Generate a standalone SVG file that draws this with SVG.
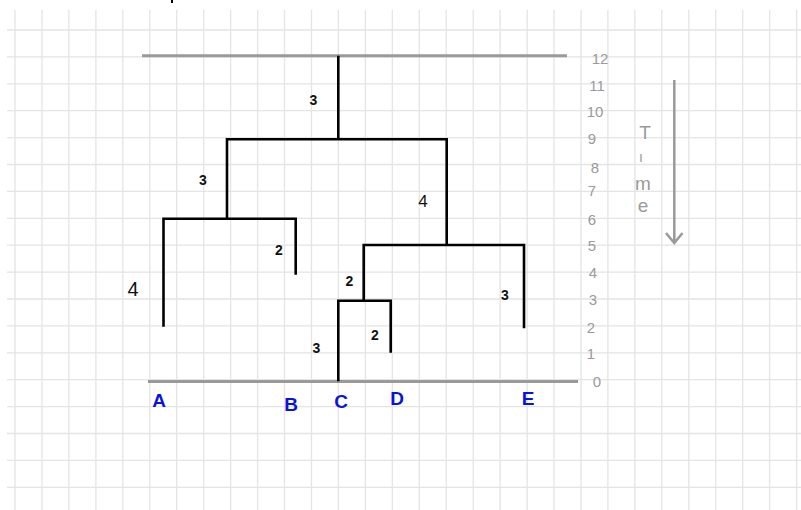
<svg xmlns="http://www.w3.org/2000/svg" width="801" height="510" viewBox="0 0 801 510">
<style>
.grid{stroke:#e4e4e4;stroke-width:1.3;fill:none}
.axis{stroke:#9a9a9a;stroke-width:3;fill:none}
.br{stroke:#000;stroke-width:2.6;fill:none;stroke-linecap:square}
.bl{font-family:"Liberation Sans",Arial,sans-serif;font-size:14px;font-weight:bold;fill:#111;text-anchor:middle;dominant-baseline:central}
.big{font-weight:normal;font-size:18px}
.leaf{font-family:"Liberation Sans",Arial,sans-serif;font-size:19px;font-weight:bold;fill:#0a14d8;text-anchor:middle;dominant-baseline:central}
.tk{font-family:"Liberation Sans",Arial,sans-serif;font-size:15px;fill:#9a9a9a;text-anchor:middle;dominant-baseline:central}
.tm{font-family:"Liberation Sans",Arial,sans-serif;font-size:19px;fill:#9a9a9a;text-anchor:middle;dominant-baseline:central}
</style>
<rect width="801" height="510" fill="#fff"/>
<path class="grid" d="M15 10V510M42 10V510M68.9 10V510M95.9 10V510M122.8 10V510M149.8 10V510M176.7 10V510M203.7 10V510M230.6 10V510M257.6 10V510M284.5 10V510M311.5 10V510M338.4 10V510M365.4 10V510M392.3 10V510M419.3 10V510M446.2 10V510M473.2 10V510M500.1 10V510M527.1 10V510M554 10V510M581 10V510M607.9 10V510M634.9 10V510M661.8 10V510M688.8 10V510M715.7 10V510M742.7 10V510M769.6 10V510M796.6 10V510M7 30H801M7 56.9H801M7 83.8H801M7 110.7H801M7 137.6H801M7 164.5H801M7 191.4H801M7 218.3H801M7 245.2H801M7 272.1H801M7 299H801M7 325.9H801M7 352.8H801M7 379.7H801M7 406.6H801M7 433.5H801M7 460.4H801M7 487.3H801"/>
<line x1="172" y1="0" x2="172" y2="3" stroke="#000" stroke-width="2"/>
<g id="axes">
<line class="axis" x1="142" y1="55.7" x2="567" y2="55.7"/>
<line class="axis" x1="148" y1="381.5" x2="578" y2="381.5"/>
</g>
<g id="connectors">
<path class="br" d="M338.3 57V139.3M227 139.3H446.7M227 139.3V218.7M163.5 218.7H295.7M163.5 218.7V325.5M295.7 218.7V273.5M446.7 139.3V245M363.7 245H524M524 245V327M363.7 245V300.7M338.3 300.7H390.7M338.3 300.7V380M390.7 300.7V351.5"/>
</g>
<g id="branch-labels">
<text class="bl" x="313.5" y="100">3</text>
<text class="bl" x="203" y="180">3</text>
<text class="bl" x="279" y="250">2</text>
<text class="bl big" x="423" y="201" style="font-size:17px">4</text>
<text class="bl big" x="133" y="289" style="font-size:20px">4</text>
<text class="bl" x="349.5" y="281">2</text>
<text class="bl" x="375" y="335">2</text>
<text class="bl" x="316.5" y="348">3</text>
<text class="bl" x="505" y="295">3</text>
</g>
<g id="node-A"><text class="leaf" x="159" y="400">A</text></g>
<g id="node-B"><text class="leaf" x="291" y="404">B</text></g>
<g id="node-C"><text class="leaf" x="341" y="401">C</text></g>
<g id="node-D"><text class="leaf" x="397" y="398">D</text></g>
<g id="node-E"><text class="leaf" x="528" y="398">E</text></g>
<g id="time-scale">
<text class="tk" x="600" y="58">12</text>
<text class="tk" x="597" y="85">11</text>
<text class="tk" x="595" y="111">10</text>
<text class="tk" x="592" y="138">9</text>
<text class="tk" x="595" y="167">8</text>
<text class="tk" x="592" y="190">7</text>
<text class="tk" x="592" y="219">6</text>
<text class="tk" x="592" y="245">5</text>
<text class="tk" x="593" y="272">4</text>
<text class="tk" x="593" y="299">3</text>
<text class="tk" x="591" y="327">2</text>
<text class="tk" x="591" y="353">1</text>
<text class="tk" x="597" y="381">0</text>
</g>
<g id="time-label">
<text class="tm" x="645" y="132">T</text>
<text class="tm" x="641" y="157" style="font-size:14px">ı</text>
<text class="tm" x="643" y="183">m</text>
<text class="tm" x="643" y="205">e</text>
<path d="M674.3 80V242M666 233L674.3 243L682.5 233" stroke="#9a9a9a" stroke-width="2.5" fill="none"/>
</g>
</svg>
